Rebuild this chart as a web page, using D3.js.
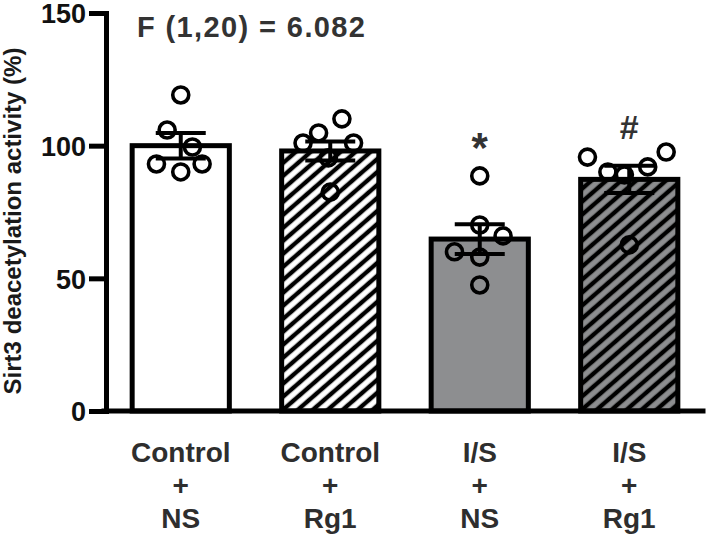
<!DOCTYPE html>
<html><head><meta charset="utf-8">
<script src="https://cdn.jsdelivr.net/npm/d3@7"></script>
<style>body{margin:0;background:#fff}</style>
</head><body>
<svg id="chart" width="709" height="539"></svg>
<script>
// ---- data ----
const categories = ["Control + NS", "Control + Rg1", "I/S + NS", "I/S + Rg1"];
const labelLines = [["Control", "+", "NS"], ["Control", "+", "Rg1"], ["I/S", "+", "NS"], ["I/S", "+", "Rg1"]];
const condition = ["Control", "Control", "I/S", "I/S"];
const treatment = ["NS", "Rg1", "NS", "Rg1"];
const means = [100.0, 98.0, 64.8, 87.3];
const sems = [4.8, 3.6, 5.6, 5.1];
const points = [
  [119.1, 105.9, 99.5, 93.1, 93.1, 90.1],
  [110.1, 104.8, 101.0, 101.0, 95.4, 82.5],
  [88.6, 70.1, 66.0, 60.0, 58.0, 47.5],
  [95.7, 97.6, 90.1, 92.0, 89.0, 62.6]
];
const jitter = [
  [0, -0.14, 0.12, -0.25, 0.22, 0],
  [0.12, -0.12, -0.28, 0.24, -0.02, 0],
  [0, 0, 0.24, -0.26, 0, 0],
  [-0.43, 0.38, -0.22, 0.19, -0.05, 0]
];
const yTicks = [0, 50, 100, 150];
const yLabel = "Sirt3 deacetylation activity (%)";
const statText = "F (1,20) = 6.082";
const marks = ["", "", "*", "#"];

// ---- layout ----
const svg = d3.select("#chart");
const font = "'Liberation Sans', Arial, sans-serif";
const y = d3.scaleLinear().domain([0, 150]).range([411, 13]);
const x = d3.scaleBand().domain(categories).range([106, 704]).paddingInner(0.35).paddingOuter(0.175);
const bw = x.bandwidth();

const defs = svg.append("defs");
const bg = {"Control": "#ffffff", "I/S": "#8d8e90"};
Object.entries(bg).forEach(([k, col]) => {
  const p = defs.append("pattern").attr("id", "hatch-" + k.replace("/", ""))
    .attr("patternUnits", "userSpaceOnUse").attr("width", 9.8).attr("height", 9.8)
    .attr("patternTransform", "rotate(49)");
  p.append("rect").attr("width", 9.8).attr("height", 9.8).attr("fill", col);
  p.append("line").attr("x1", 4.9).attr("x2", 4.9).attr("y1", -1).attr("y2", 11)
    .attr("stroke", "#000").attr("stroke-width", 4.4);
});
const fillFor = i => treatment[i] === "Rg1" ? "url(#hatch-" + condition[i].replace("/", "") + ")" : bg[condition[i]];

// bars
svg.append("g").selectAll("rect").data(categories).join("rect")
  .attr("x", d => x(d)).attr("width", bw)
  .attr("y", (d, i) => y(means[i])).attr("height", (d, i) => y(0) - y(means[i]))
  .attr("fill", (d, i) => fillFor(i))
  .attr("stroke", "#000").attr("stroke-width", 5);

// axes
const yAxis = svg.append("g").attr("transform", "translate(106,0)")
  .call(d3.axisLeft(y).tickValues(yTicks).tickSize(17).tickSizeOuter(0).tickPadding(3));
yAxis.select(".domain").attr("stroke", "#000").attr("stroke-width", 5).attr("stroke-linecap", "square");
yAxis.selectAll(".tick line").attr("stroke", "#000").attr("stroke-width", 5);
yAxis.selectAll(".tick text").attr("font-family", font).attr("font-weight", "bold")
  .attr("font-size", 27).attr("fill", "#111").attr("dy", "0.36em");

const xAxis = svg.append("g").attr("transform", "translate(0," + y(0) + ")")
  .call(d3.axisBottom(x).tickSize(0).tickSizeOuter(0).tickFormat(""));
xAxis.select(".domain").attr("stroke", "#000").attr("stroke-width", 5).attr("stroke-linecap", "square")
  .attr("d", "M104,0H703");

// points
categories.forEach((c, i) => {
  svg.append("g").selectAll("circle").data(points[i]).join("circle")
    .attr("cx", (d, j) => x(c) + bw / 2 + jitter[i][j] * bw)
    .attr("cy", d => y(d)).attr("r", 8)
    .attr("fill", "none").attr("stroke", "#000").attr("stroke-width", 3.6);
});

// error bars
const eb = svg.append("g").attr("stroke", "#000").attr("stroke-width", 4);
categories.forEach((c, i) => {
  const cx = x(c) + bw / 2;
  eb.append("line").attr("x1", cx).attr("x2", cx).attr("y1", y(means[i] - sems[i])).attr("y2", y(means[i] + sems[i]));
  [means[i] - sems[i], means[i] + sems[i]].forEach(v => {
    eb.append("line").attr("x1", cx - 25).attr("x2", cx + 25).attr("y1", y(v)).attr("y2", y(v));
  });
});

// x labels
categories.forEach((c, i) => {
  const t = svg.append("text").attr("font-family", font).attr("font-weight", "bold")
    .attr("font-size", 28).attr("fill", "#2e2e2e").attr("text-anchor", "middle");
  labelLines[i].forEach((l, k) => {
    t.append("tspan").attr("x", x(c) + bw / 2).attr("y", 462 + k * 33).text(l);
  });
});

// significance marks
categories.forEach((c, i) => {
  if (!marks[i]) return;
  svg.append("text").attr("x", x(c) + bw / 2)
    .attr("y", marks[i] === "*" ? 162 : 139)
    .attr("text-anchor", "middle").attr("font-family", font).attr("font-weight", "bold")
    .attr("font-size", marks[i] === "*" ? 42 : 34).attr("fill", "#333").text(marks[i]);
});

// stat text
svg.append("text").attr("font-family", font).attr("font-weight", "bold")
  .attr("font-size", 29).attr("fill", "#333").attr("x", 137).attr("y", 37)
  .attr("textLength", 228).attr("lengthAdjust", "spacing").text(statText);

// y label
svg.append("text").attr("transform", "translate(21,221) rotate(-90)")
  .attr("text-anchor", "middle").attr("font-family", font).attr("font-weight", "bold")
  .attr("font-size", 24).attr("fill", "#1a1a1a").text(yLabel);
</script>
</body></html>
